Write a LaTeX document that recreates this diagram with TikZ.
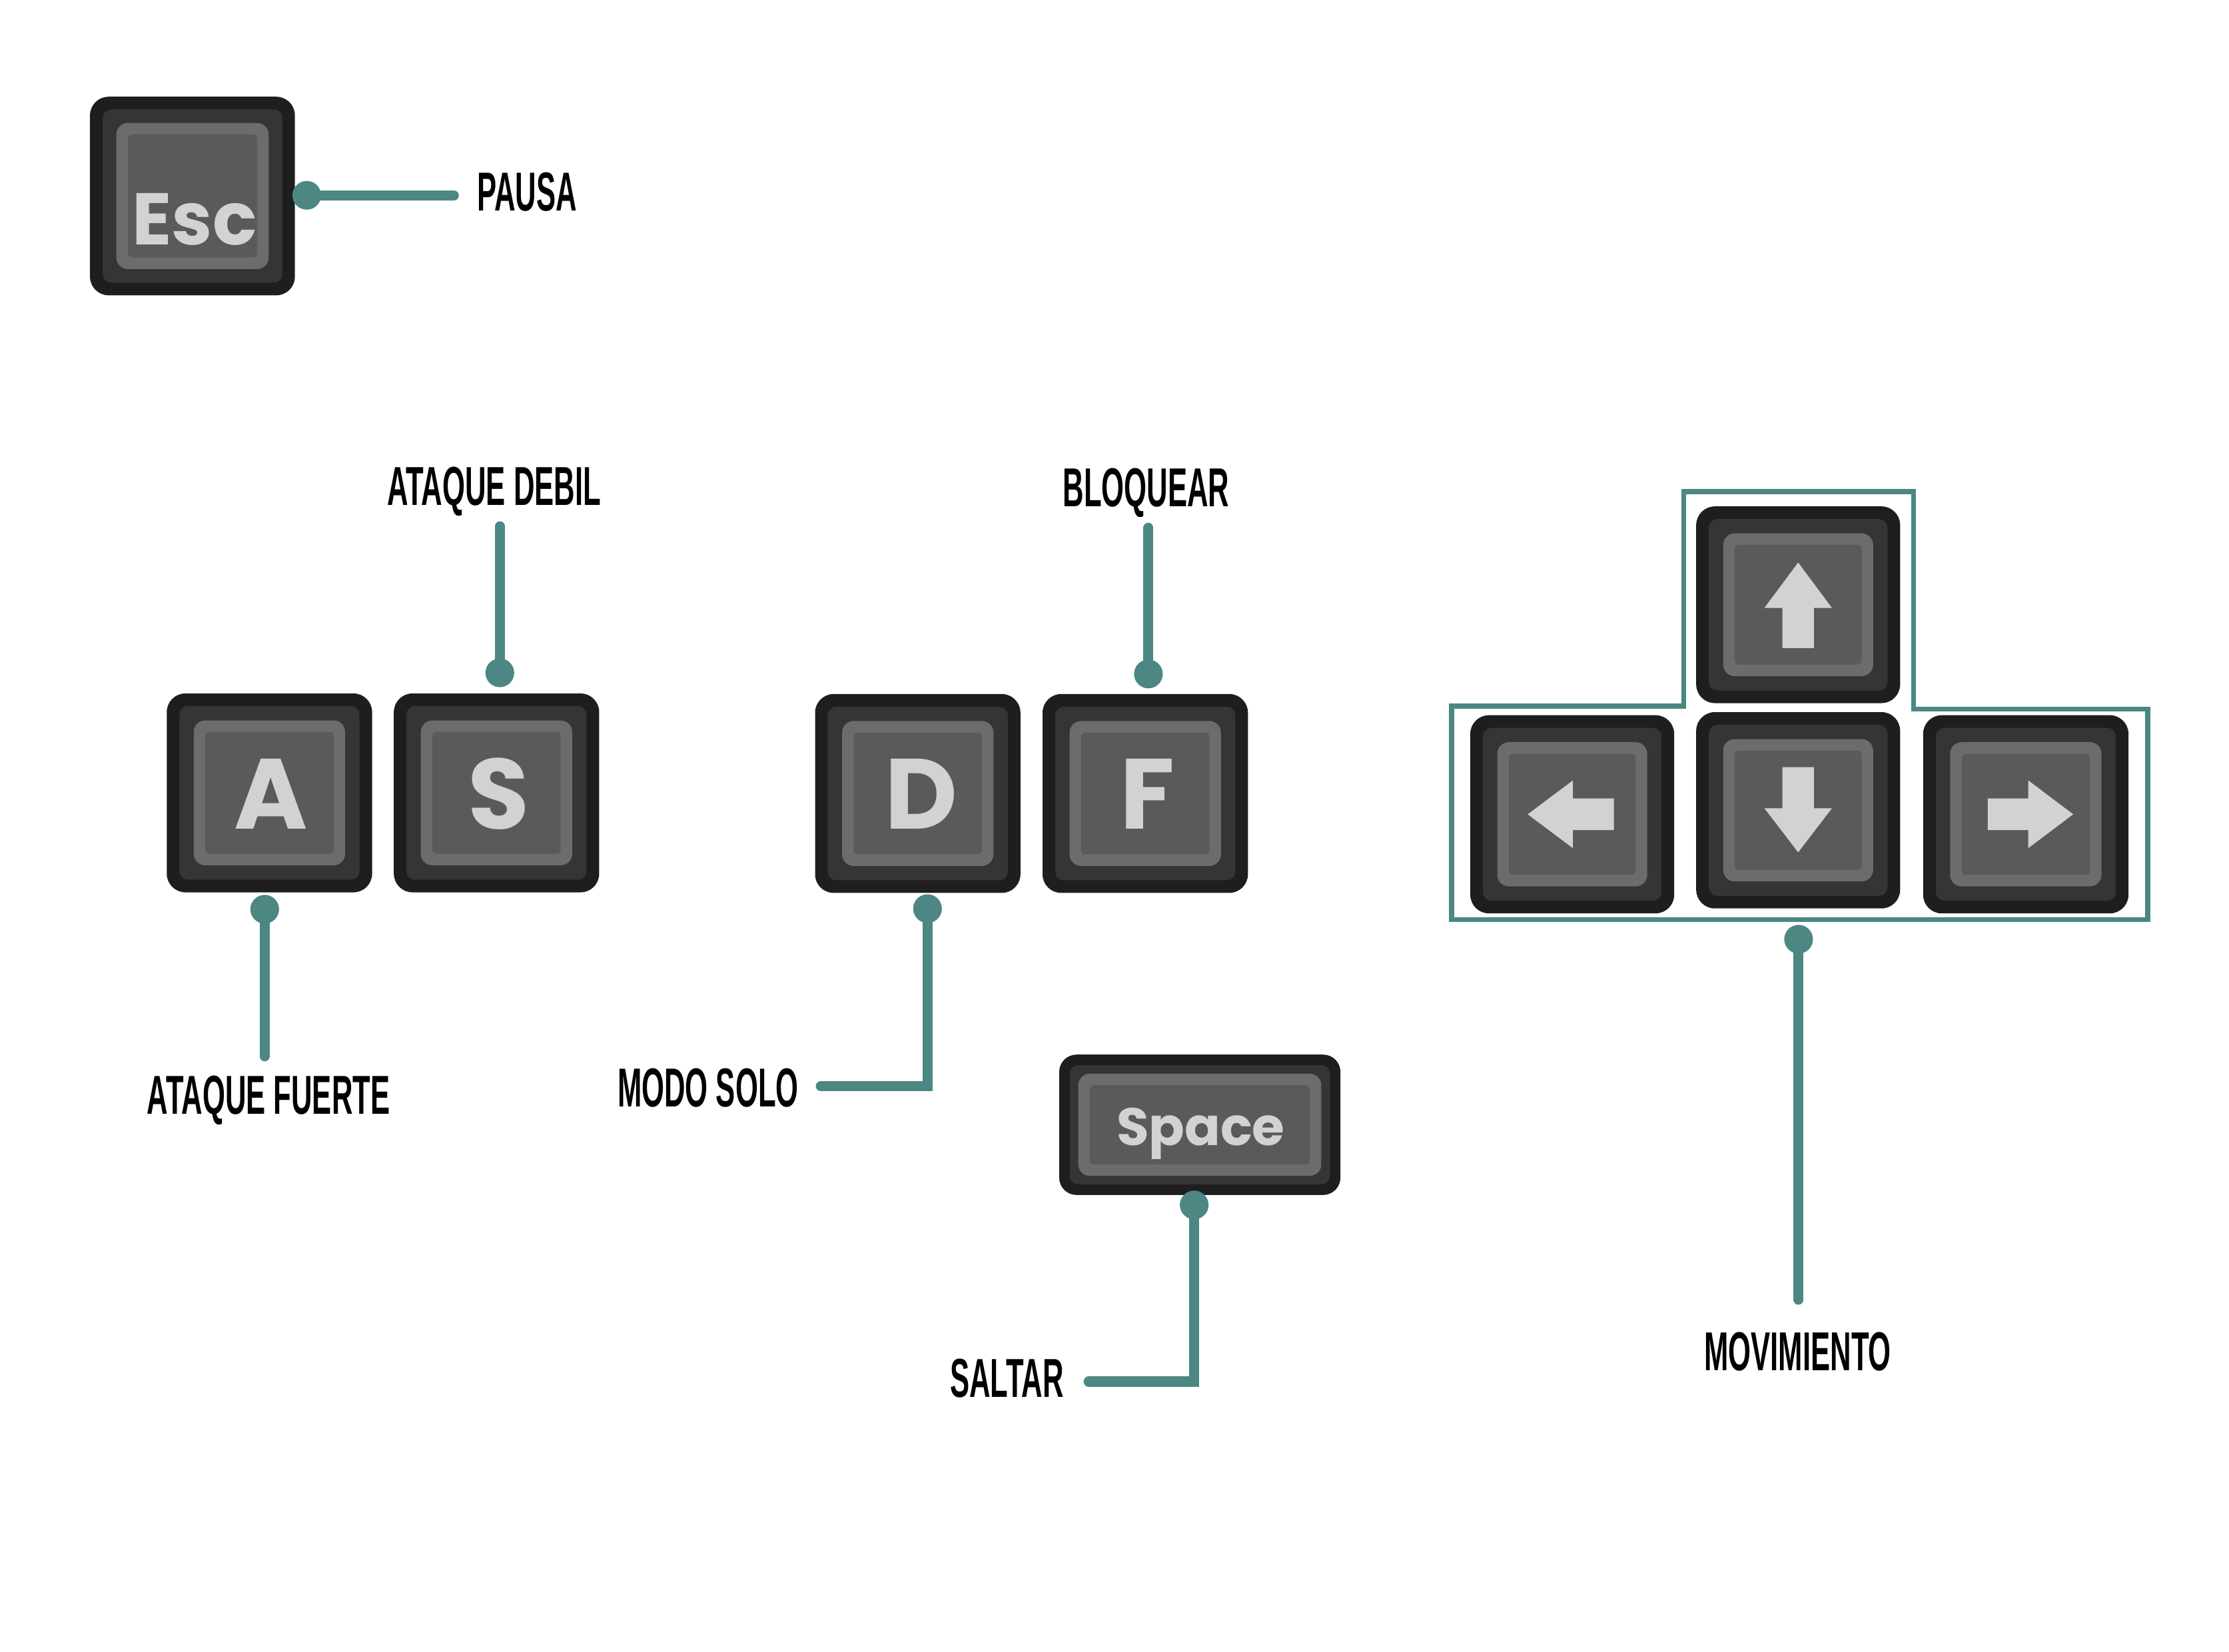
\documentclass[tikz,border=0pt]{standalone}
\usepackage{fontspec}
\usetikzlibrary{calc}
\newfontfamily\lblfont[FakeStretch=0.53]{Liberation Sans}
\newfontfamily\keyfont{Poppins}
\definecolor{conncol}{RGB}{76,135,132}
\definecolor{keyouter}{HTML}{1E1E1E}
\definecolor{keymid}{HTML}{353535}
\definecolor{keyrim}{HTML}{6C6C6C}
\definecolor{keyface}{HTML}{5A5A5A}
\definecolor{keyletter}{HTML}{D2D2D2}
\newcommand\keylayers[4]{%
  \fill[keymid, rounded corners=6pt] ($(#1.south west)+(#2pt,#2pt)$) rectangle ($(#1.north east)-(#2pt,#2pt)$);
  \fill[keyrim, rounded corners=8pt] ($(#1.south west)+(#3pt,#3pt)$) rectangle ($(#1.north east)-(#3pt,#3pt)$);
  \fill[keyface, rounded corners=3pt] ($(#1.south west)+(#4pt,#4pt)$) rectangle ($(#1.north east)-(#4pt,#4pt)$);
}
\tikzset{
  keybody/.style={rectangle, rounded corners=13pt, fill=keyouter, draw=none, inner sep=0pt,
    minimum width=143pt, minimum height=138.5pt},
  keytxt/.style={inner sep=0pt, text=keyletter, font=\keyfont\bfseries\fontsize{69.5pt}{70pt}\selectfont,
    text height=48.7pt, text depth=0pt},
  esctxt/.style={keytxt, font=\keyfont\bfseries\fontsize{51pt}{52pt}\selectfont, text height=35.6pt},
  spacetxt/.style={keytxt, font=\keyfont\bfseries\fontsize{36.7pt}{37pt}\selectfont, text height=25.7pt},
  glyph/.style={fill=keyletter},
  lbl/.style={inner sep=0pt, text=black, font=\lblfont\bfseries\fontsize{38.2pt}{40pt}\selectfont,
    text height=27.4pt, text depth=0pt},
  dot/.style={circle, fill=conncol, draw=none, minimum size=20pt, inner sep=0pt},
  conn/.style={draw=conncol, line width=7pt, line cap=round},
  outline/.style={draw=conncol, line width=3.5pt}
}
\begin{document}
\begin{tikzpicture}[x=1pt, y=-1pt]
\useasboundingbox (0,0) rectangle (1552,1150.3);
\fill[white] (0,0) rectangle (1552,1150.3);

% ---- keys ----
\node[keybody, minimum width=142.7pt, minimum height=138.3pt] (Esc) at (134,136.5) {};
\keylayers{Esc}{9}{18.5}{26.5}
\node[esctxt] (Esctxt) at (135.5,152.6) {Esc};

\node[keybody] (A) at (187.6,552.1) {};
\keylayers{A}{9}{19}{27}
\node[keytxt] (Atxt) at (188.5,553) {A};

\node[keybody] (S) at (345.7,552.1) {};
\keylayers{S}{9}{19}{27}
\node[keytxt] (Stxt) at (347,553) {S};

\node[keybody] (D) at (639,552.5) {};
\keylayers{D}{9}{19}{27}
\node[keytxt] (Dtxt) at (641.5,553) {D};

\node[keybody] (F) at (797.4,552.5) {};
\keylayers{F}{9}{19}{27}
\node[keytxt] (Ftxt) at (799,553) {F};

\node[keybody, rounded corners=12pt, minimum width=195.8pt, minimum height=97.7pt] (Space) at (835.4,783.2) {};
\keylayers{Space}{7.5}{13.5}{21.5}
\node[spacetxt] (Spacetxt) at (836,784.5) {Space};

\node[keybody, minimum width=142pt, minimum height=137pt] (Up) at (1252,421.1) {};
\keylayers{Up}{9}{19}{27}
\fill[glyph, shift={(Up.center)}] (0pt,29.4pt) -- (23.5pt,-2.2pt) -- (11pt,-2.2pt) -- (11pt,-30.1pt)
  -- (-11pt,-30.1pt) -- (-11pt,-2.2pt) -- (-23.5pt,-2.2pt) -- cycle;

\node[keybody, minimum width=142pt, minimum height=138pt] (Left) at (1094.7,567) {};
\keylayers{Left}{9}{19}{27}
\fill[glyph, shift={(Left.center)}] (-31pt,0pt) -- (0.5pt,23.6pt) -- (0.5pt,11pt) -- (29pt,11pt)
  -- (29pt,-11pt) -- (0.5pt,-11pt) -- (0.5pt,-23.6pt) -- cycle;

\node[keybody, minimum width=142pt, minimum height=136.7pt] (Down) at (1252,564.2) {};
\keylayers{Down}{9}{19}{27}
\fill[glyph, shift={(Down.center)}] (0pt,-29.3pt) -- (23.5pt,1.4pt) -- (11pt,1.4pt) -- (11pt,30pt)
  -- (-11pt,30pt) -- (-11pt,1.4pt) -- (-23.5pt,1.4pt) -- cycle;

\node[keybody, minimum width=143pt, minimum height=138pt] (Right) at (1410.5,567) {};
\keylayers{Right}{9}{19}{27}
\fill[glyph, shift={(Right.center)}] (33pt,0pt) -- (1.7pt,23.6pt) -- (1.7pt,11pt) -- (-26.5pt,11pt)
  -- (-26.5pt,-11pt) -- (1.7pt,-11pt) -- (1.7pt,-23.6pt) -- cycle;

% ---- outline round the arrow keys ----
\draw[outline] (1010.8,491.6) -- (1172.4,491.6) -- (1172.4,342.3) -- (1332.3,342.3)
  -- (1332.3,493.7) -- (1495.5,493.7) -- (1495.5,640.4) -- (1010.8,640.4) -- cycle;

% ---- labels ----
\node[lbl] (pausa) at (367,133) {PAUSA};
\node[lbl] (debil) at (344,338) {ATAQUE DEBIL};
\node[lbl] (bloq) at (798,339) {BLOQUEAR};
\node[lbl] (fuerte) at (187,762) {ATAQUE FUERTE};
\node[lbl] (modo) at (493,757) {MODO SOLO};
\node[lbl] (saltar) at (701,959) {SALTAR};
\node[lbl] (mov) at (1251.7,940.5) {MOVIMIENTO};

% ---- connector ends ----
\coordinate (pausaend) at (316,136);
\coordinate (debilend) at (348,366.5);
\coordinate (bloqend) at (799.6,367.5);
\coordinate (fuerteend) at (184.3,735.5);
\coordinate (modoend) at (571.5,756.3);
\coordinate (saltarend) at (758,962);
\coordinate (movend) at (1252.3,905);

% ---- connectors ----
\node[dot] (Escdot) at (213.6,136) {};
\node[dot] (Sdot) at (348,468.5) {};
\node[dot] (Fdot) at (799.6,469.3) {};
\node[dot] (Adot) at (184.3,633.1) {};
\node[dot] (Ddot) at (645.8,632.7) {};
\node[dot] (Spdot) at (831.5,839) {};
\node[dot] (Movdot) at (1252.3,654) {};

\draw[conn] (Escdot.center) -- (pausaend);
\draw[conn] (Sdot.center) -- (debilend);
\draw[conn] (Fdot.center) -- (bloqend);
\draw[conn] (Adot.center) -- (fuerteend);
\draw[conn] (Ddot.center) |- (modoend);
\draw[conn] (Spdot.center) |- (saltarend);
\draw[conn] (Movdot.center) -- (movend);
\end{tikzpicture}
\end{document}
